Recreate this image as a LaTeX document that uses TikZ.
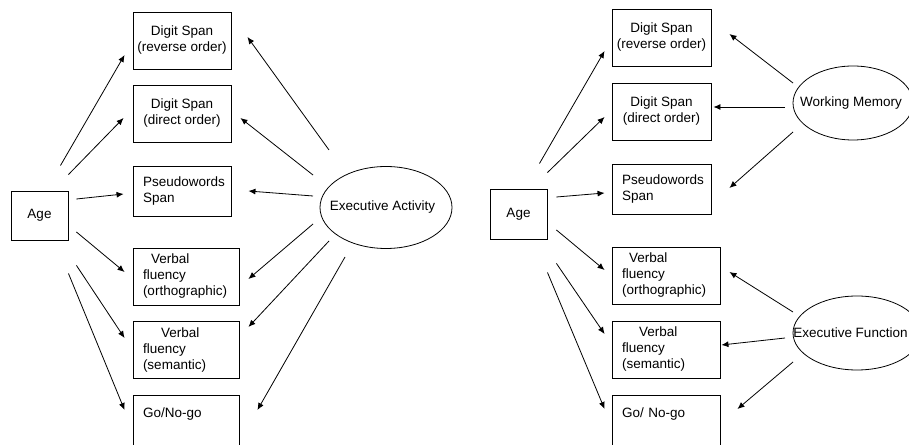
\documentclass[tikz,border=0pt]{standalone}
\usepackage{fontspec}
\setmainfont{Liberation Sans}
\usepackage{tikz}
\usetikzlibrary{arrows.meta}
\usetikzlibrary{shapes.geometric}

\begin{document}
\begin{tikzpicture}[x=1pt,y=1pt,font=\fontsize{13.5}{16}\selectfont]
        \tikzset{edge/.style = {-{Latex[length=7pt,width=6pt]},line width=0.8pt}}
        \tikzset{box/.style = {draw,line width=0.9pt,minimum height=57pt,inner xsep=10pt,inner ysep=0pt}}
        \tikzset{cbox/.style = {box,align=center,inner xsep=2pt,minimum width=#1}}
        \tikzset{lbox/.style = {box,align=left,text width=#1}}
        \tikzset{oval/.style = {draw,ellipse,line width=0.8pt,inner sep=0pt}}

        \useasboundingbox (0,0) rectangle (909,444);

        % left model
        \node[box,minimum width=57pt,minimum height=49pt] (ageL) at (39.5,228.5) {Age};
        \node[cbox=98pt] (dsrL) at (182,403.5) {Digit Span\\(reverse order)};
        \node[cbox=98pt] (dsdL) at (182,330.5) {Digit Span\\(direct order)};
        \node[lbox=78pt,minimum height=50pt] (pwL) at (182,253) {Pseudowords\\Span};
        \node[lbox=86pt] (vfoL) at (186,167.5) {\hspace*{8pt}Verbal\\fluency\\(orthographic)};
        \node[lbox=86pt] (vfsL) at (186,94) {\hspace*{18pt}Verbal\\fluency\\(semantic)};
        \node[lbox=86pt] (gngL) at (186,20.5) {Go/No-go\\\strut};
        \node[oval,minimum width=132pt,minimum height=82pt,label={[xshift=-3.5pt]center:Executive Activity}] (eaL) at (386,236.5) {};

        % age paths
        \draw[edge] ([shift={(-8,25)}]ageL.north east) -- ([shift={(-8,-14.5)}]dsrL.west);
        \draw[edge] ([shift={(0,16)}]ageL.north east) -- ([shift={(-9,-4.5)}]dsdL.west);
        \draw[edge] ([shift={(8,16.5)}]ageL.east) -- ([shift={(-9,-3)}]pwL.west);
        \draw[edge] ([shift={(8,-16.5)}]ageL.east) -- ([shift={(-8,4.5)}]vfoL.west);
        \draw[edge] ([shift={(8,-25)}]ageL.south east) -- ([shift={(-8,12)}]vfsL.west);
        \draw[edge] ([shift={(0,-33)}]ageL.south east) -- ([shift={(-8,13.5)}]gngL.west);

        % executive activity paths
        \draw[edge] ([shift={(-57,57.5)}]eaL.center) -- ([shift={(16,3.5)}]dsrL.east);
        \draw[edge] ([shift={(-73,32.5)}]eaL.center) -- ([shift={(9,-4.5)}]dsdL.east);
        \draw[edge] ([shift={(-73,11.5)}]eaL.center) -- ([shift={(17,0)}]pwL.east);
        \draw[edge] ([shift={(-73,-16.5)}]eaL.center) -- ([shift={(9,-2.5)}]vfoL.east);
        \draw[edge] ([shift={(-57,-33.5)}]eaL.center) -- ([shift={(9,23)}]vfsL.east);
        \draw[edge] ([shift={(-41,-49.5)}]eaL.center) -- ([shift={(18,13.5)}]gngL.east);

        % right model
        \node[box,minimum width=57pt,minimum height=50pt] (ageR) at (518.5,230) {Age};
        \node[cbox=99pt] (dsrR) at (661.5,406.5) {Digit Span\\(reverse order)};
        \node[cbox=99pt] (dsdR) at (661.5,332.5) {Digit Span\\(direct order)};
        \node[lbox=79pt,minimum height=50pt] (pwR) at (661.5,255) {Pseudowords\\Span};
        \node[lbox=88pt] (vfoR) at (666,168.5) {\hspace*{7pt}Verbal\\fluency\\(orthographic)};
        \node[lbox=88pt] (vfsR) at (666,94.5) {\hspace*{17pt}Verbal\\fluency\\(semantic)};
        \node[lbox=88pt] (gngR) at (666,20.5) {Go/ No-go\\\strut};
        \node[oval,minimum width=120pt,minimum height=74pt,label={[xshift=-2pt]center:Working Memory}] (wmR) at (853,341) {};
        \node[oval,minimum width=128pt,minimum height=74pt,label={[xshift=-6.5pt]center:Executive Function}] (efR) at (857,111) {};

        % age paths
        \draw[edge] ([shift={(-8,25)}]ageR.north east) -- ([shift={(-7,-13.5)}]dsrR.west);
        \draw[edge] ([shift={(0,16)}]ageR.north east) -- ([shift={(-7,-5.5)}]dsdR.west);
        \draw[edge] ([shift={(9,17)}]ageR.east) -- ([shift={(-7,-4)}]pwR.west);
        \draw[edge] ([shift={(9,-16)}]ageR.east) -- ([shift={(-7,5.5)}]vfoR.west);
        \draw[edge] ([shift={(9,-24)}]ageR.south east) -- ([shift={(-7,15.5)}]vfsR.west);
        \draw[edge] ([shift={(0,-33)}]ageR.south east) -- ([shift={(-7,14.5)}]gngR.west);

        % working memory paths
        \draw[edge] ([shift={(-60,20)}]wmR.center) -- ([shift={(18,3.5)}]dsrR.east);
        \draw[edge] ([shift={(-68,-4)}]wmR.center) -- ([shift={(2,4.5)}]dsdR.east);
        \draw[edge] ([shift={(-60,-29)}]wmR.center) -- ([shift={(18,1)}]pwR.east);

        % executive function paths
        \draw[edge] ([shift={(-64,21)}]efR.center) -- ([shift={(9,3.5)}]vfoR.east);
        \draw[edge] ([shift={(-72,-5)}]efR.center) -- ([shift={(1,4.5)}]vfsR.east);
        \draw[edge] ([shift={(-64,-29)}]efR.center) -- ([shift={(17,14.5)}]gngR.east);

\end{tikzpicture}
\end{document}
